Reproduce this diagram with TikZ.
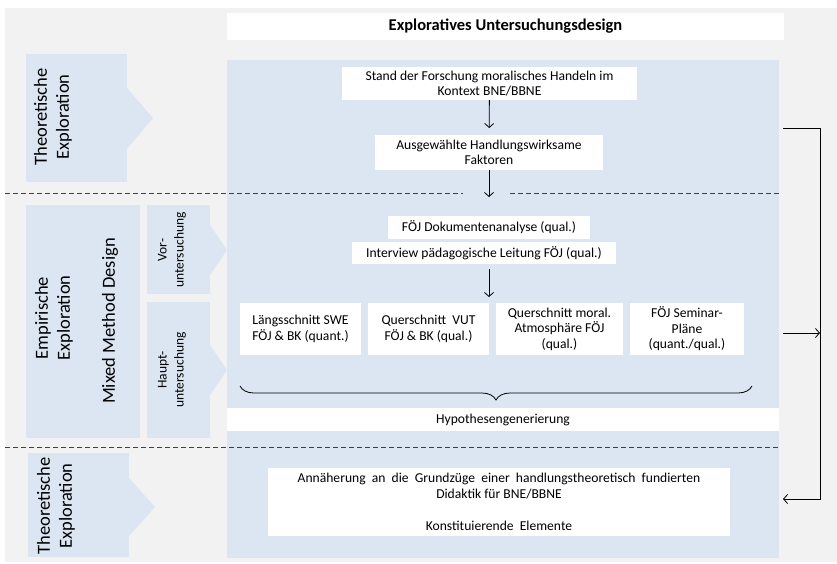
\documentclass[tikz,border=0pt]{standalone}
\usepackage{fontspec}
\setmainfont{Carlito}
\usetikzlibrary{arrows.meta,decorations.pathreplacing,positioning}

\definecolor{bggrey}{HTML}{F2F2F2}
\definecolor{panelblue}{HTML}{DCE6F2}
\definecolor{dashgrey}{HTML}{404040}

\tikzset{
  wbox/.style={fill=white,inner sep=0pt,outer sep=0pt,align=center,font=\fontsize{13.6}{15.5}\selectfont},
  sbox/.style={fill=panelblue,inner sep=0pt,outer sep=0pt},
  rottxt/.style={rotate=90,align=center,font=\fontsize{18.5}{22}\selectfont},
  trenn/.style={dashgrey,line width=0.8pt,dash pattern=on 4.5pt off 3.5pt},
  pfeil/.style={->,line width=0.8pt}
}

\begin{document}
\begin{tikzpicture}[x=1pt,y=-1pt,>={Straight Barb[length=4pt,width=9pt]}]
  \useasboundingbox (0,0) rectangle (837,563);
  % hintergrund
  \fill[bggrey] (5,8) rectangle (837,562);
  \node[sbox,minimum width=552,minimum height=498] (panel) at (503,309) {};
  \node[wbox,minimum width=557,minimum height=27,font=\fontsize{16.5}{18}\selectfont\bfseries] (titel) at (505.5,26.5) {Exploratives Untersuchungsdesign};

  % linke spalte
  \node[sbox,minimum width=101,minimum height=128] (theo1) at (76.5,118) {};
  \fill[panelblue] (127,88) -- (153,118) -- (127,149) -- cycle;
  \node[rottxt] (theo1txt) at (53,117) {Theoretische\\Exploration};

  \node[sbox,minimum width=114,minimum height=233] (empir) at (83,321.5) {};
  \node[rottxt] (empirtxt) at (54,318) {Empirische\\Exploration};
  \node[rottxt] (mixed) at (110,321) {Mixed Method Design};

  \node[sbox,minimum width=63,minimum height=89] (vor) at (178.5,249.5) {};
  \fill[panelblue] (210,225) -- (227,250) -- (210,275) -- cycle;
  \node[rottxt,font=\fontsize{13.5}{17}\selectfont] (vortxt) at (172,250) {Vor-\\untersuchung};

  \node[sbox,minimum width=63,minimum height=136] (haupt) at (178.5,370) {};
  \fill[panelblue] (210,345) -- (227,370) -- (210,395) -- cycle;
  \node[rottxt,font=\fontsize{13.5}{17}\selectfont] (haupttxt) at (172,370) {Haupt-\\untersuchung};

  \node[sbox,minimum width=101,minimum height=104] (theo2) at (78.5,505) {};
  \fill[panelblue] (129,478) -- (155,507) -- (129,536) -- cycle;
  \node[rottxt] (theo2txt) at (56,506) {Theoretische\\Exploration};

  % trennlinien
  \draw[trenn] (5,193) -- (463,193) (510,193) -- (779,193);
  \draw[trenn] (5,447) -- (779,447);

  % theoretische exploration
  \node[wbox,minimum width=295,minimum height=33] (stand) at (489.5,83.5) {Stand der Forschung moralisches Handeln im\\Kontext BNE/BBNE};
  \node[wbox,minimum width=228,minimum height=35] (ausw) at (489,152.5) {Ausgewählte Handlungswirksame\\Faktoren};
  \coordinate (auswend) at (489,197);
  \draw[pfeil,shorten >=7pt] (stand) -- (ausw);
  \draw[pfeil] (ausw) -- (auswend);

  % empirische exploration
  \node[wbox,minimum width=202,minimum height=23] (doku) at (489,227.5) {FÖJ Dokumentenanalyse (qual.)};
  \node[wbox,minimum width=264,minimum height=22] (interv) at (484,253) {Interview pädagogische Leitung FÖJ (qual.)};
  \node[wbox,minimum width=121,minimum height=52] (laengs) at (300.5,329) {Längsschnitt SWE\\FÖJ \& BK (quant.)};
  \node[wbox,minimum width=121,minimum height=52] (quervut) at (428.5,329) {Querschnitt~ VUT\\FÖJ \& BK (qual.)};
  \node[wbox,minimum width=127,minimum height=52] (quermoral) at (559.5,329) {Querschnitt moral.\\Atmosphäre FÖJ\\(qual.)};
  \node[wbox,minimum width=114,minimum height=52] (plaene) at (687,329) {FÖJ Seminar-\\Pläne\\(quant./qual.)};
  \draw[pfeil,shorten <=5pt,shorten >=6pt] (interv.south -| quervut.east) -- (quervut.north east);

  \coordinate (brl) at (240,386);
  \coordinate (brr) at (752,386);
  \draw[line width=0.8pt,decorate,decoration={brace,mirror,amplitude=14pt}] (brl) -- (brr);
  \node[wbox,minimum width=552,minimum height=23] (hypo) at (503,419.5) {Hypothesengenerierung};

  % theoretische exploration unten
  \node[wbox,minimum width=462,minimum height=68] (annae) at (499,502) {Annäherung~ an~ die~ Grundzüge~ einer~ handlungstheoretisch~ fundierten\\Didaktik für BNE/BBNE\\[17pt]Konstituierende~ Elemente};

  % rueckfuehrung rechts
  \coordinate (rueckA) at (783,128);
  \coordinate (rueckB) at (820,128);
  \coordinate (rueckC) at (820,499);
  \coordinate (rueckD) at (783,499);
  \coordinate (rueckM) at (783,333);
  \draw[pfeil] (rueckA) -- (rueckB) -- (rueckC) -- (rueckD);
  \draw[pfeil] (rueckM) -- (rueckM -| rueckB);
\end{tikzpicture}
\end{document}
